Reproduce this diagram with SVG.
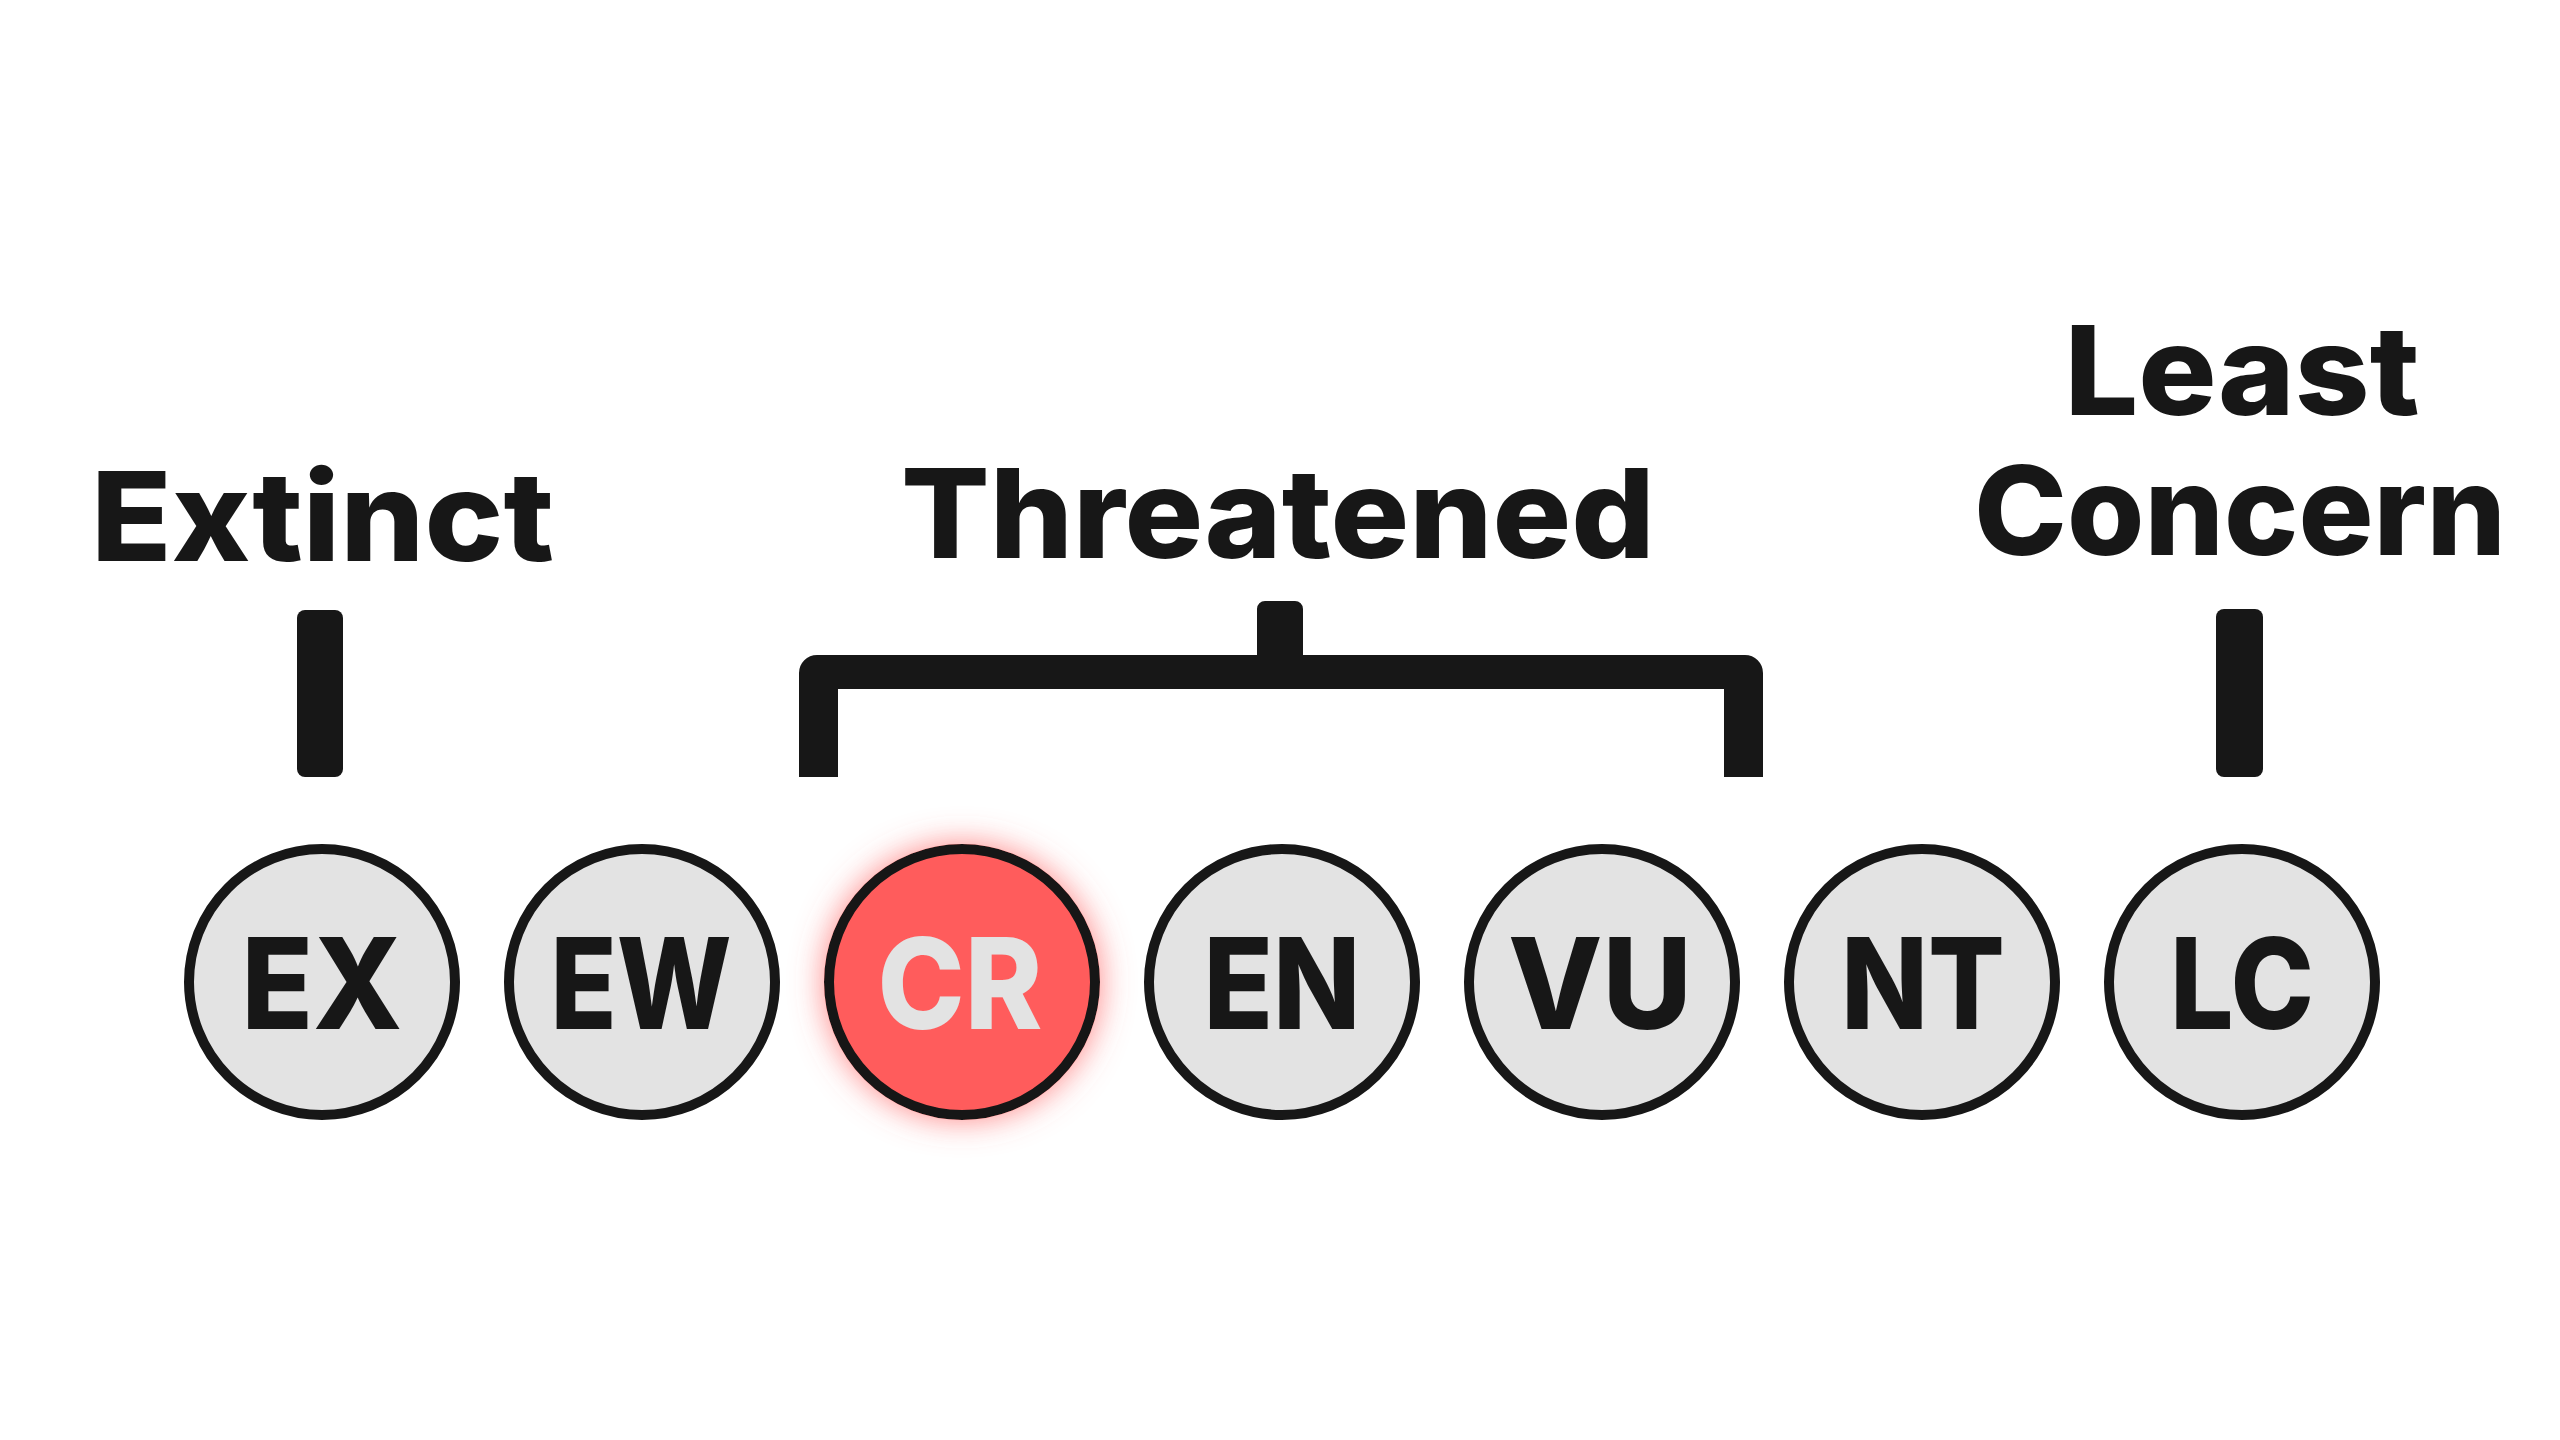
<svg xmlns="http://www.w3.org/2000/svg" width="2560" height="1440" viewBox="0 0 2560 1440">
  <defs>
    <style>
      .title { font-family: Inter, "Noto Sans", "Open Sans", sans-serif; font-weight: 800; font-size: 124px; fill: #171717; text-anchor: middle; }
      .lbl { font-family: Inter, "Noto Sans", "Open Sans", sans-serif; font-weight: 800; font-size: 126px; fill: #171717; text-anchor: middle; }
      .lbl.hot { fill: #e3e3e3; }
      .node circle { fill: #e3e3e3; stroke: #171717; stroke-width: 10; }
      .node.hot circle { fill: #ff5c5c; }
      .conn { fill: #171717; }
    </style>
    <filter id="glow" x="-40%" y="-40%" width="180%" height="180%">
      <feGaussianBlur in="SourceAlpha" stdDeviation="16" result="b"/>
      <feFlood flood-color="#ff5c5c" flood-opacity="0.75"/>
      <feComposite in2="b" operator="in" result="g"/>
      <feMerge><feMergeNode in="g"/><feMergeNode in="SourceGraphic"/></feMerge>
    </filter>
  </defs>
  <rect width="2560" height="1440" fill="#ffffff"/>

  <g id="titles">
    <text id="t-extinct" class="title" x="322.5" y="561" textLength="463" lengthAdjust="spacingAndGlyphs">Extinct</text>
    <text id="t-threatened" class="title" x="1278" y="558" textLength="754" lengthAdjust="spacingAndGlyphs">Threatened</text>
    <text id="t-least-concern" class="title"><tspan x="2242" y="415" textLength="355" lengthAdjust="spacingAndGlyphs">Least</tspan><tspan x="2240" y="555" textLength="532" lengthAdjust="spacingAndGlyphs">Concern</tspan></text>
  </g>

  <g id="connectors">
    <rect class="conn" x="297" y="610" width="46" height="167" rx="8"/>
    <path class="conn" d="M799,777 L799,673 A18,18 0 0 1 817,655 L1257,655 L1257,609 A8,8 0 0 1 1265,601 L1295,601 A8,8 0 0 1 1303,609 L1303,655 L1745,655 A18,18 0 0 1 1763,673 L1763,777 L1724,777 L1724,689 L838,689 L838,777 Z"/>
    <rect class="conn" x="2216" y="609" width="47" height="168" rx="8"/>
  </g>

  <g id="node-EX" class="node"><circle cx="322" cy="982" r="133"/><text class="lbl" x="322" y="1029" textLength="161" lengthAdjust="spacingAndGlyphs">EX</text></g>
  <g id="node-EW" class="node"><circle cx="642" cy="982" r="133"/><text class="lbl" x="641" y="1029" textLength="181" lengthAdjust="spacingAndGlyphs">EW</text></g>
  <g id="node-CR" class="node hot" filter="url(#glow)"><circle cx="962" cy="982" r="133"/><text class="lbl hot" x="960" y="1029" textLength="165" lengthAdjust="spacingAndGlyphs">CR</text></g>
  <g id="node-EN" class="node"><circle cx="1282" cy="982" r="133"/><text class="lbl" x="1282" y="1029" textLength="157" lengthAdjust="spacingAndGlyphs">EN</text></g>
  <g id="node-VU" class="node"><circle cx="1602" cy="982" r="133"/><text class="lbl" x="1600" y="1029" textLength="184" lengthAdjust="spacingAndGlyphs">VU</text></g>
  <g id="node-NT" class="node"><circle cx="1922" cy="982" r="133"/><text class="lbl" x="1923" y="1029" textLength="164" lengthAdjust="spacingAndGlyphs">NT</text></g>
  <g id="node-LC" class="node"><circle cx="2242" cy="982" r="133"/><text class="lbl" x="2242" y="1029" textLength="144" lengthAdjust="spacingAndGlyphs">LC</text></g>
</svg>
